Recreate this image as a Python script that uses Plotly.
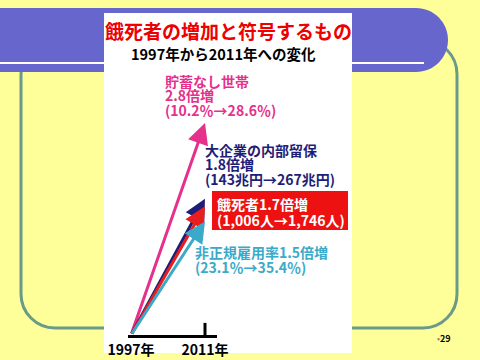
import plotly.graph_objects as go

# ---- data ----
years = [1997, 2011]
tick_labels = ["1997年", "2011年"]
categories = ["貯蓄なし世帯", "大企業の内部留保", "餓死者", "非正規雇用率"]
ratios = [2.8, 1.8, 1.7, 1.5]
start_vals = ["10.2％", "143兆円", "1,006人", "23.1％"]
end_vals = ["28.6％", "267兆円", "1,746人", "35.4％"]
colors = ["#E5308C", "#1E1E78", "#E81E1E", "#3AAAC8"]
title = "餓死者の増加と符号するもの"
subtitle = "1997年から2011年への変化"

W, H = 480, 360
FONT = "Noto Sans CJK JP"

def px(x):
    return x / W

def py(y):
    return 1 - y / H

P = lambda x, y: f"{px(x):.5f},{py(y):.5f}"

fig = go.Figure()

fig.add_trace(go.Scatter(x=years, y=[0, 0], mode="lines",
                         line=dict(color="rgba(0,0,0,0)"), hoverinfo="skip",
                         showlegend=False))

shapes = []

def rr_path(x0, y0, x1, y1, r):
    k = 0.5523 * r
    return (f"M {P(x0 + r, y0)} L {P(x1 - r, y0)} "
            f"C {P(x1 - r + k, y0)} {P(x1, y0 + r - k)} {P(x1, y0 + r)} "
            f"L {P(x1, y1 - r)} "
            f"C {P(x1, y1 - r + k)} {P(x1 - r + k, y1)} {P(x1 - r, y1)} "
            f"L {P(x0 + r, y1)} "
            f"C {P(x0 + r - k, y1)} {P(x0, y1 - r + k)} {P(x0, y1 - r)} "
            f"L {P(x0, y0 + r)} "
            f"C {P(x0, y0 + r - k)} {P(x0 + r - k, y0)} {P(x0 + r, y0)} Z")

shapes.append(dict(type="path", xref="paper", yref="paper", layer="below",
                   path=rr_path(21, 40, 457, 328, 34),
                   line=dict(color="#6A9A8A", width=3)))

r = 32
k = 0.5523 * r
x_end = 416
bar = (f"M {P(0, 8)} L {P(x_end, 8)} "
       f"C {P(x_end + k, 8)} {P(x_end + r, 40 - k)} {P(x_end + r, 40)} "
       f"C {P(x_end + r, 40 + k)} {P(x_end + k, 72)} {P(x_end, 72)} "
       f"L {P(0, 72)} Z")
shapes.append(dict(type="path", xref="paper", yref="paper", layer="below",
                   path=bar, fillcolor="#6666CC", line=dict(width=0)))
shapes.append(dict(type="line", xref="paper", yref="paper", layer="below",
                   x0=px(0), x1=px(424), y0=py(63), y1=py(63),
                   line=dict(color="white", width=2)))
shapes.append(dict(type="rect", xref="paper", yref="paper", layer="below",
                   x0=px(104), x1=px(352), y0=py(13), y1=py(353),
                   fillcolor="white", line=dict(width=0)))
shapes.append(dict(type="rect", xref="paper", yref="paper", layer="below",
                   x0=px(212), x1=px(348), y0=py(191), y1=py(230),
                   fillcolor="#EE1111", line=dict(width=0)))
shapes.append(dict(type="line", xref="x", yref="y", layer="below",
                   x0=years[1], x1=years[1], y0=0, y1=0.16,
                   line=dict(color="black", width=3)))

annotations = []

for c, v, col in zip(categories, ratios, colors):
    annotations.append(dict(x=years[1], y=v, ax=years[0], ay=0,
                            xref="x", yref="y", axref="x", ayref="y",
                            text="", showarrow=True, arrowhead=2,
                            arrowsize=1.4, arrowwidth=3, arrowcolor=col,
                            standoff=0, startstandoff=0))

def txt(x, y, s, color, size=14, anchor="left"):
    annotations.append(dict(x=px(x), y=py(y), xref="paper", yref="paper",
                            text=f"<b>{s}</b>", showarrow=False,
                            xanchor=anchor, yanchor="middle",
                            font=dict(family=FONT, size=size, color=color)))

txt(228, 30, title, "#EE0000", size=19, anchor="center")
txt(223, 53, subtitle, "black", size=14.5, anchor="center")

txt(163, 81, categories[0], colors[0])
txt(163, 95.5, f"{ratios[0]}倍増", colors[0])
txt(163, 110, f"({start_vals[0]}→{end_vals[0]})", colors[0])

txt(203, 150, categories[1], colors[1])
txt(203, 164.5, f"{ratios[1]}倍増", colors[1])
txt(203, 179, f"({start_vals[1]}→{end_vals[1]})", colors[1])

txt(215, 203.5, f"{categories[2]}{ratios[2]}倍増", "white")
txt(215, 219.5, f"({start_vals[2]}→{end_vals[2]})", "white")

txt(193, 252, f"{categories[3]}{ratios[3]}倍増", colors[3])
txt(193, 267, f"({start_vals[3]}→{end_vals[3]})", colors[3])

annotations.append(dict(x=px(453), y=py(338), xref="paper", yref="paper",
                        text="<span style='color:#B08060'>•</span><b>29</b>",
                        showarrow=False, xanchor="right", yanchor="middle",
                        font=dict(family=FONT, size=9, color="black")))

# axis geometry: 1997 -> px 131, 2011 -> px 205 ; y 0 -> px 335
ppy = (years[1] - years[0]) / (205 - 131)
x_left, x_right = 128, 217
xr = [years[0] - (131 - x_left) * ppy, years[1] + (x_right - 205) * ppy]
ppu = 212 / ratios[0]
y_bottom = 335
yr = [0, y_bottom / ppu]

fig.update_layout(
    width=W, height=H, autosize=False,
    margin=dict(l=0, r=0, t=0, b=0, pad=0, autoexpand=False),
    paper_bgcolor="#FFFF99",
    plot_bgcolor="rgba(0,0,0,0)",
    showlegend=False,
    shapes=shapes,
    annotations=annotations,
    xaxis=dict(domain=[px(x_left), px(x_right)], range=xr, automargin=False,
               showline=True, linecolor="black", linewidth=3,
               tickvals=years, ticktext=tick_labels, ticks="",
               showgrid=False, zeroline=False, fixedrange=True,
               tickfont=dict(family=FONT, size=14, color="black", weight="bold")),
    yaxis=dict(domain=[(H - y_bottom) / H, 1], range=yr, visible=False,
               automargin=False, fixedrange=True),
)

fig.write_html("out.html",
               config={"displayModeBar": False, "staticPlot": True},
               post_script="document.body.style.margin='0px';"
                           "document.body.style.overflow='hidden';")
